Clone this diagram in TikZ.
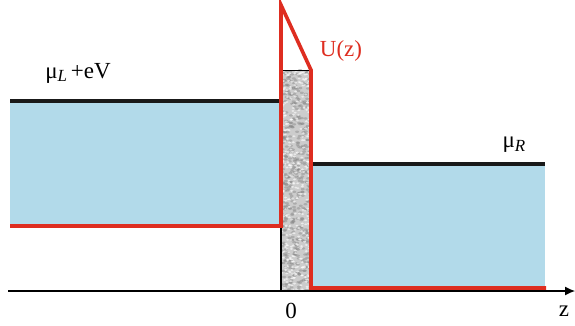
\documentclass[tikz,border=0pt]{standalone}
\usepackage{fontspec}
\setmainfont{Liberation Serif}
\usepackage{tikz}
\usetikzlibrary{arrows.meta,positioning,calc}
\definecolor{bandBlue}{RGB}{178,218,234}
\definecolor{potRed}{RGB}{222,45,32}
\tikzset{
  band/.style={fill=bandBlue, draw=none},
  fermi/.style={line width=4pt, black!90},
  potential/.style={line width=3.6pt, potRed, line join=miter},
  lbl/.style={font=\fontsize{23}{26}\selectfont, inner sep=1pt},
}
\newcommand{\subl}[1]{\raisebox{-0.35ex}{\fontsize{17}{18}\selectfont\textit{#1}}}

\begin{document}
\begin{tikzpicture}[x=1pt,y=-1pt]
    \useasboundingbox (0,0) rectangle (575,326);
    % bands
    \fill[band] (10,101) rectangle (281,226);
    \fill[band] (311,164) rectangle (545,288);
    % barrier
    \fill[gray!40] (281,70) rectangle (311,291);
    \begin{scope}
      \clip (281,70) rectangle (311,291);
      \pgfmathsetseed{7}
      \foreach \i in {1,...,450} {
        \fill[gray!95, opacity=0.45] ({281+30*rnd},{70+221*rnd}) ellipse (2 and 1.2);
      }
      \foreach \i in {1,...,350} {
        \fill[white, opacity=0.6] ({281+30*rnd},{70+221*rnd}) ellipse (1.6 and 1.0);
      }
    \end{scope}
    \draw[line width=0.8pt] (282,70) -- (310,70);
    \draw[line width=1.2pt] (281,226) -- (281,291);
    % fermi levels
    \draw[fermi] (10,101) -- (281,101);
    \draw[fermi] (311,164) -- (545,164);
    % axis
    \coordinate (zstart) at (8,291);
    \coordinate (zend) at (575,291);
    \draw[line width=1.2pt, -{Latex[length=10pt,width=9pt]}] (zstart) -- (zend);
    % potential
    \draw[potential] (10,226) -- (281,226) -- (281,5) -- (311,70) -- (311,288) -- (546,288);
    % labels
    \node[lbl] (muL) at (78,73) {μ\subl{L}\,+eV};
    \node[lbl] (muR) at (514,145) {μ\subl{R}};
    \node[lbl, potRed] (uz) at (341,51) {U(z)};
    \node[lbl] (zero) at (291,311) {0};
    \node[lbl] (zlbl) at (564,311) {z};
\end{tikzpicture}
\end{document}
